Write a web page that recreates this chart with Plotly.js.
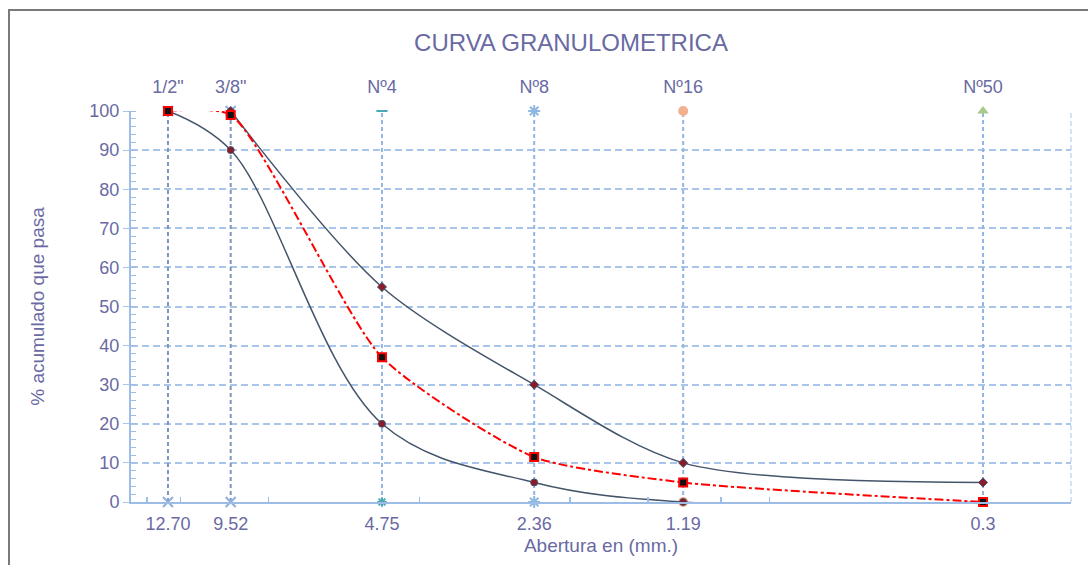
<!DOCTYPE html>
<html><head><meta charset="utf-8">
<script src="https://cdn.plot.ly/plotly-3.0.1.min.js"></script>
<style>html,body{margin:0;padding:0;background:#fff}#c{width:1088px;height:565px}</style>
</head><body><div id="c"></div>
<script>
// Sieve data
const sieveMM = [12.70, 9.52, 4.75, 2.36, 1.19, 0.3];
const sieveNames = ['1/2"', '3/8"', 'Nº4', 'Nº8', 'Nº16', 'Nº50'];
const tickLabels = ['12.70', '9.52', '4.75', '2.36', '1.19', '0.3'];
const upperLimit = [null, 100, 55, 30, 10, 5];
const lowerLimit = [100, 90, 20, 5, 0, 0];
const sample = [100, 99, 37, 11.5, 5, 0];
const minorX = [14, 12, 8, 4, 2, 1.4, 1, 0.8];
const yTicks = [0, 10, 20, 30, 40, 50, 60, 70, 80, 90, 100];

const txtColor = '#6a6aa3';
const xr = [1.1776, -0.6985];

// vertical guide lines per sieve
const vStyle = [
  {c:'#7e96bd', top:'x-thin', bot:'x-thin', mc:'#8fb0dc', ms:10},
  {c:'#7e96bd', top:'x-thin', bot:'x-thin', mc:'#8fb0dc', ms:10},
  {c:'#93b5e3', top:'line-ew', bot:'asterisk', mc:'#4aa8b8', ms:8},
  {c:'#93b5e3', top:'asterisk', bot:'asterisk', mc:'#8fb8e0', ms:10},
  {c:'#93b5e3', top:'circle', bot:'circle', mc:'#f2b08f', ms:10},
  {c:'#93b5e3', top:'triangle-up', bot:'triangle-up', mc:'#a9c98a', ms:10}
];
const traces = [];
sieveMM.forEach((v, i) => {
  const s = vStyle[i];
  traces.push({
    x: [v, v], y: [yTicks[0], yTicks[yTicks.length-1]], type: 'scatter', mode: 'lines+markers',
    line: {color: s.c, width: 2, dash: '4px,3px'},
    marker: {symbol: [s.bot, s.top], size: s.ms, color: s.mc,
             line: {color: s.mc, width: (s.top==='circle'||s.top==='triangle-up') ? 0 : 2}},
    cliponaxis: false, hoverinfo: 'skip', showlegend: false
  });
});
traces.push({
  x: sieveMM, y: upperLimit, type: 'scatter', mode: 'lines+markers',
  line: {color: '#44546a', width: 1.5, shape: 'spline', smoothing: 0.85},
  marker: {symbol: 'diamond', size: 7, color: '#8b1a2b', line: {color: '#44546a', width: 1}},
  cliponaxis: false, showlegend: false
});
traces.push({
  x: sieveMM, y: lowerLimit, type: 'scatter', mode: 'lines+markers',
  line: {color: '#44546a', width: 1.5, shape: 'spline', smoothing: 1},
  marker: {symbol: 'circle', size: 7, color: '#8b1a2b', line: {color: '#44546a', width: 1}},
  cliponaxis: false, showlegend: false
});
traces.push({
  x: sieveMM, y: sample, type: 'scatter', mode: 'lines+markers',
  line: {color: '#ff0000', width: 2, shape: 'spline', smoothing: 0.6, dash: 'dashdot'},
  marker: {symbol: 'square', size: 8, color: '#111111', line: {color: '#ff0000', width: 2}},
  cliponaxis: false, showlegend: false
});
// top axis carrier
traces.push({x: sieveMM, y: sample, xaxis: 'x2', type: 'scatter', mode: 'markers',
  marker: {opacity: 0}, hoverinfo: 'skip', showlegend: false});
// minor tick axis carrier
traces.push({x: minorX, y: minorX.map(() => 0), xaxis: 'x3', type: 'scatter', mode: 'markers',
  marker: {opacity: 0}, hoverinfo: 'skip', showlegend: false});

const ff = 'Liberation Sans, Arial, sans-serif';
const font = {family: ff, size: 18, color: txtColor};
const layout = {
  width: 1088, height: 565,
  margin: {l: 131, r: 17, t: 111, b: 63},
  paper_bgcolor: '#ffffff', plot_bgcolor: '#ffffff',
  font: font,
  title: {text: 'CURVA GRANULOMETRICA', font: {family: ff, size: 24, color: txtColor},
          x: (571-131)/940, xanchor: 'center', xref: 'paper', y: 1 - 43/565, yanchor: 'middle'},
  xaxis: {type: 'log', range: xr, tickvals: sieveMM, ticktext: tickLabels,
          showgrid: false, zeroline: false, showline: true, linecolor: '#9dbde6', linewidth: 2,
          ticks: 'outside', ticklen: 4, tickcolor: 'rgba(0,0,0,0)', tickfont: font,
          title: {text: 'Abertura en (mm.)', font: {family: ff, size: 19, color: txtColor}, standoff: 6}},
  xaxis2: {type: 'log', range: xr, overlaying: 'x', side: 'top', tickvals: sieveMM, ticktext: sieveNames,
           showgrid: false, zeroline: false, showline: false, ticks: 'outside', ticklen: 10,
           tickcolor: 'rgba(0,0,0,0)', tickfont: font},
  xaxis3: {type: 'log', range: xr, overlaying: 'x', side: 'bottom', tickvals: minorX, showticklabels: false,
           showgrid: false, zeroline: false, showline: false, ticks: 'inside', ticklen: 5,
           tickcolor: '#9dbde6', tickwidth: 1.5},
  yaxis: {range: [0, 100], tickvals: yTicks, showgrid: true, gridcolor: '#a9c5ea', gridwidth: 2,
          griddash: '7px,4px', zeroline: false, showline: true, linecolor: '#9dbde6', linewidth: 2,
          ticks: 'outside', ticklen: 6, tickcolor: '#a9c5ea', tickfont: font,
          minor: {dtick: 2, ticks: 'inside', ticklen: 5, tickcolor: '#9dbde6', showgrid: false},
          title: {text: '% acumulado que pasa', font: {family: ff, size: 19, color: txtColor}, standoff: 40}},
  shapes: [
    {type: 'line', xref: 'paper', yref: 'paper', x0: 1, x1: 1, y0: 0, y1: 1,
     line: {color: '#d5e2f4', width: 2, dash: '5px,3px'}, layer: 'below'},
    {type: 'rect', xref: 'paper', yref: 'paper', x0: (9-131)/940, x1: 1.2, y0: (502-10)/391, y1: -0.5,
     line: {color: '#7a7a7a', width: 2}, fillcolor: 'rgba(0,0,0,0)'}
  ]
};
Plotly.newPlot('c', traces, layout, {displayModeBar: false, staticPlot: true});
</script></body></html>
